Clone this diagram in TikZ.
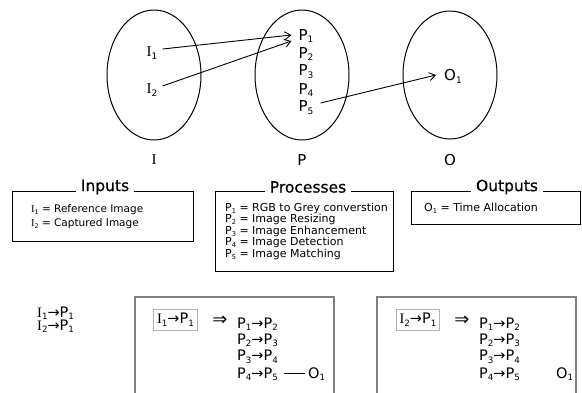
\documentclass[tikz,border=0pt]{standalone}
\usepackage{fontspec}
\setmainfont{DejaVu Sans}
\newfontfamily\serI{Liberation Serif}
\usetikzlibrary{arrows.meta,shapes.geometric}
\newcommand\Iv{{\serI I}}
\newcommand\sbs[1]{\raisebox{-0.35ex}{\scalebox{0.6}{#1}}}
\begin{document}
\begin{tikzpicture}[x=1pt,y=-1pt,
 ell/.style={draw,ellipse,line width=1pt,inner sep=0pt},
 big/.style={font=\fontsize{15}{17}\selectfont, inner sep=1pt},
 arr/.style={-{Straight Barb[length=6pt,width=8pt]}, line width=0.9pt},
 boxs/.style={draw, line width=1pt},
 ttl/.style={fill=white, font=\fontsize{15.5}{18}\selectfont\addfontfeatures{FakeBold=0.6}, inner sep=5pt},
 sm/.style={font=\fontsize{11}{12}\selectfont, anchor=base west, inner sep=0pt},
 md/.style={font=\fontsize{14.5}{16}\selectfont, anchor=base west, inner sep=0pt},
 imp/.style={font=\fontsize{18}{18}\selectfont, inner sep=0pt},
 gbox/.style={draw=black!50, line width=1.2pt},
 ibox/.style={draw=black!30, line width=0.9pt, inner sep=3.5pt, font=\fontsize{14.5}{16}\selectfont}]
\useasboundingbox (0,0) rectangle (582,392);

% ellipses
\node[ell, minimum width=94pt, minimum height=130pt] (EI) at (154,75) {};
\node[ell, minimum width=94pt, minimum height=130pt] (EP) at (302,75) {};
\node[ell, minimum width=94pt, minimum height=128pt] (EO) at (450,75) {};
\node[big] (LI) at (154,160) {\Iv};
\node[big] (LP) at (302,160) {P};
\node[big] (LO) at (450,160) {O};

\node[big] (I1) at (152,53) {\Iv\sbs{1}};
\node[big] (I2) at (152,90) {\Iv\sbs{2}};
\node[big] (P1) at (306,36) {P\sbs{1}};
\node[big] (P2) at (306,54) {P\sbs{2}};
\node[big] (P3) at (306,72) {P\sbs{3}};
\node[big] (P4) at (306,90) {P\sbs{4}};
\node[big] (P5) at (306,108) {P\sbs{5}};
\node[big] (O1) at (453,76) {O\sbs{1}};

\draw[arr] ([xshift=4pt,yshift=4pt]I1.east) -- ([xshift=-6pt,yshift=1pt]P1.west);
\draw[arr] ([xshift=4pt,yshift=4pt]I2.east) -- ([xshift=-6pt,yshift=-5pt]P1.west);
\draw[arr] ([xshift=6pt,yshift=5pt]P5.east) -- ([xshift=-7pt,yshift=1pt]O1.west);

% legend boxes
\draw[boxs] (12,191) rectangle (193,241);
\node[ttl] (TI) at (105,187) {Inputs};
\node[sm,font=\fontsize{10.5}{12}\selectfont] (In1) at (31,212.5) {\Iv\sbs{1} = Reference Image};
\node[sm,font=\fontsize{10.5}{12}\selectfont] (In2) at (31,226) {\Iv\sbs{2} = Captured Image};

\draw[boxs] (215,191) rectangle (393,271);
\node[ttl] (TP) at (308,187) {Processes};
\node[sm] (Pr1) at (225,211) {P\sbs{1} = RGB to Grey converstion};
\node[sm] (Pr2) at (225,222.5) {P\sbs{2} = Image Resizing};
\node[sm] (Pr3) at (225,234) {P\sbs{3} = Image Enhancement};
\node[sm] (Pr4) at (225,245.5) {P\sbs{4} = Image Detection};
\node[sm] (Pr5) at (225,257) {P\sbs{5} = Image Matching};

\draw[boxs] (411,191) rectangle (580,224);
\node[ttl] (TO) at (507,187) {Outputs};
\node[sm] (Ou1) at (424,211) {O\sbs{1} = Time Allocation};

% bottom
\node[md] (L1) at (37,317) {\Iv\sbs{1}→P\sbs{1}};
\node[md] (L2) at (37,330) {\Iv\sbs{2}→P\sbs{1}};

\draw[gbox] (135,400) -- (135,297) -- (334,297) -- (334,400);
\node[ibox] (B1) at (175.5,320) {\Iv\sbs{1}→P\sbs{1}};
\node[imp] (D1) at (220,321) {⇒};
\node[md] (a1) at (237,328) {P\sbs{1}→P\sbs{2}};
\node[md] (a2) at (237,344) {P\sbs{2}→P\sbs{3}};
\node[md] (a3) at (237,360.5) {P\sbs{3}→P\sbs{4}};
\node[md] (a4) at (237,378) {P\sbs{4}→P\sbs{5}};
\node[md] (a5) at (308,378) {O\sbs{1}};
\draw[line width=0.8pt] ([xshift=6pt]a4.east |- 0,373) coordinate (d1) -- ([xshift=-3pt]a5.west |- 0,373) coordinate (d2);

\draw[gbox] (377,400) -- (377,297) -- (576,297) -- (576,400);
\node[ibox] (B2) at (418,320) {\Iv\sbs{2}→P\sbs{1}};
\node[imp] (D2) at (462,321) {⇒};
\node[md] (b1) at (479,328) {P\sbs{1}→P\sbs{2}};
\node[md] (b2) at (479,344) {P\sbs{2}→P\sbs{3}};
\node[md] (b3) at (479,360.5) {P\sbs{3}→P\sbs{4}};
\node[md] (b4) at (479,378) {P\sbs{4}→P\sbs{5}};
\node[md] (b5) at (556,378) {O\sbs{1}};
\end{tikzpicture}
\end{document}
